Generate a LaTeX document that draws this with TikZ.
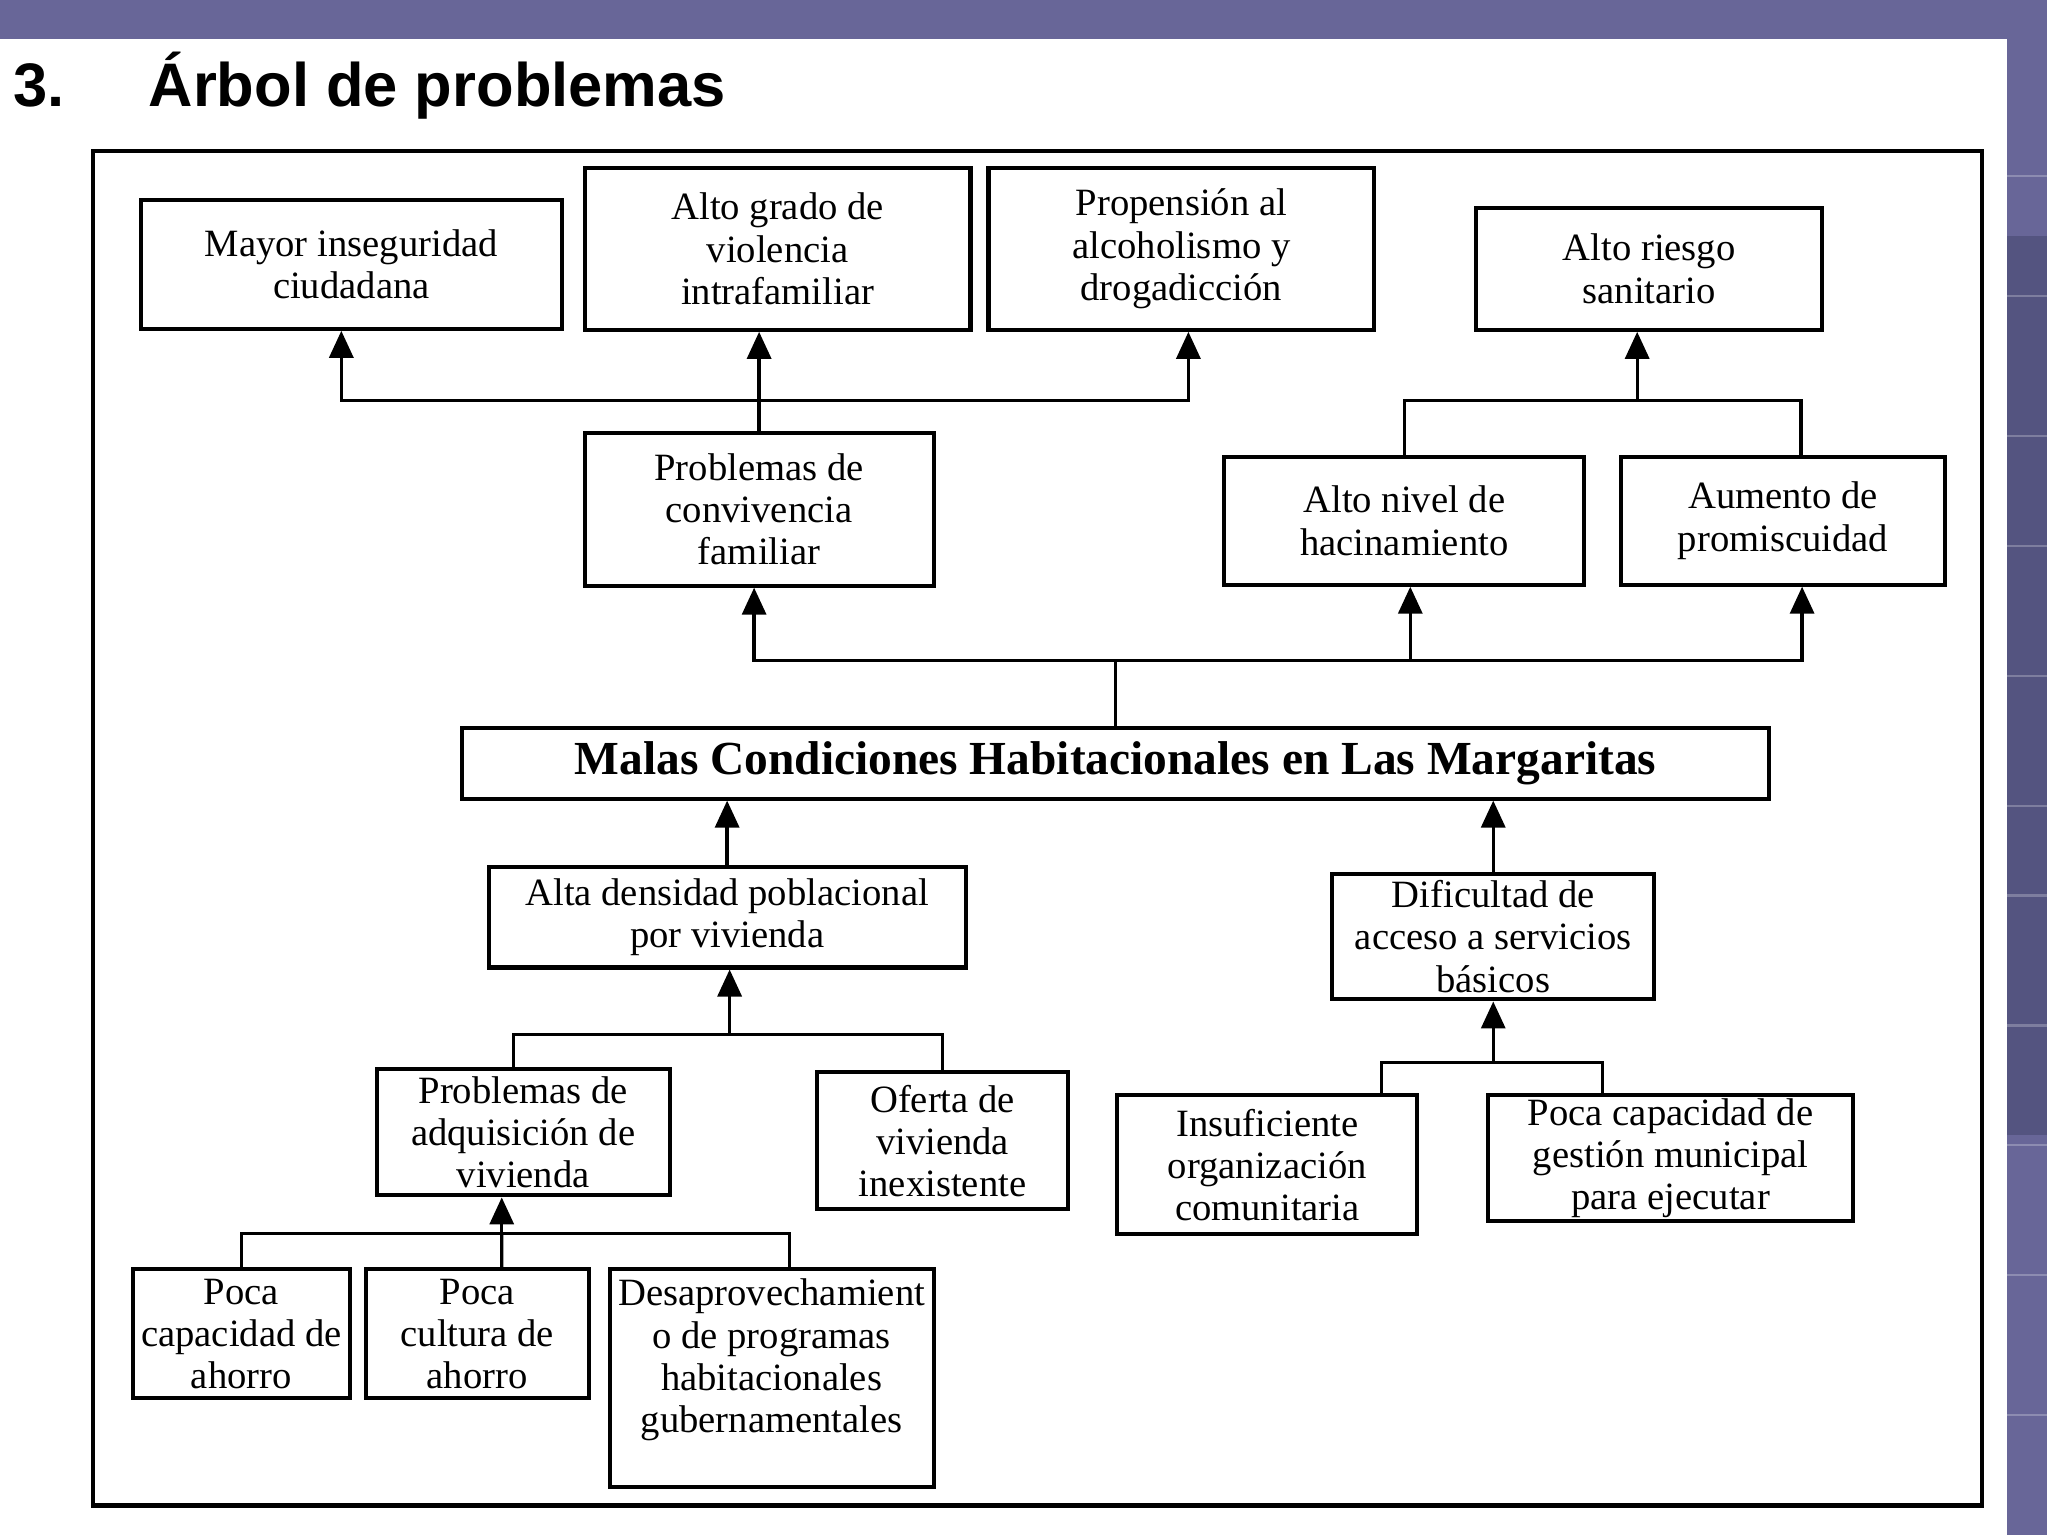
\documentclass[tikz,border=0pt]{standalone}
\usepackage{fontspec}
\setmainfont{Liberation Serif}
\newfontfamily\titlefont{Liberation Sans}
\usetikzlibrary{arrows.meta,calc}
\definecolor{fondo}{RGB}{104,102,152}
\definecolor{fondooscuro}{RGB}{84,84,128}

\begin{document}
\begin{tikzpicture}[
  caja/.style={draw, line width=1.15pt, align=center, inner sep=1pt,
    font={\fontsize{11}{12}\selectfont}},
  flecha/.style={-{Triangle[length=0.27cm,width=0.24cm]}, line width=0.95pt},
  linea/.style={line width=0.95pt}]
  % fondo de la diapositiva
  \fill[fondo] (0,0) rectangle (20.48,15.36);
  \fill[fondooscuro] (20.08,4) rectangle (20.48,13);
  \foreach \y in {1.2,2.6,3.9,5.1,6.4,7.3,8.6,9.9,11.0,12.4,13.6}
    \draw[white, opacity=0.25, line width=0.6pt] (20.08,\y) -- (20.48,\y);
  \fill[white] (0,0) rectangle (20.08,14.97);
  \useasboundingbox (0,0) rectangle (20.48,15.36);
  % titulo
  \node[anchor=base west, inner sep=0, font={\titlefont\bfseries\fontsize{17.5}{20}\selectfont}] (num) at (0.13,14.29) {3.};
  \node[anchor=base west, inner sep=0, font={\titlefont\bfseries\fontsize{17.5}{20}\selectfont}] (titulo) at (1.48,14.29) {Árbol de problemas};
  % marco
  \draw[line width=1.3pt] (0.93,0.30) rectangle (19.83,13.85);
  % efectos
  \node[caja, minimum width=4.21cm, minimum height=1.29cm] (inseg) at (3.515,12.715) {Mayor inseguridad\\ciudadana};
  \node[caja, minimum width=3.86cm, minimum height=1.62cm] (violencia) at (7.78,12.87) {Alto grado de\\violencia\\intrafamiliar};
  \node[caja, minimum width=3.86cm, minimum height=1.62cm] (alcohol) at (11.82,12.87) {Propensión al\\alcoholismo y\\drogadicción};
  \node[caja, minimum width=3.46cm, minimum height=1.22cm] (riesgo) at (16.50,12.67) {Alto riesgo\\sanitario};
  \node[caja, minimum width=3.49cm, minimum height=1.53cm] (conviv) at (7.595,10.265) {Problemas de\\convivencia\\familiar};
  \node[caja, minimum width=3.60cm, minimum height=1.28cm] (hacin) at (14.05,10.15) {Alto nivel de\\hacinamiento};
  \node[caja, minimum width=3.24cm, minimum height=1.28cm] (promis) at (17.84,10.15) {Aumento de\\promiscuidad};
  % problema central
  \node[caja, minimum width=13.08cm, minimum height=0.71cm, font={\bfseries\fontsize{13.5}{15}\selectfont}] (principal) at (11.16,7.725) {Malas Condiciones Habitacionales en Las Margaritas};
  % causas
  \node[caja, minimum width=4.77cm, minimum height=1.01cm] (densidad) at (7.275,6.185) {Alta densidad poblacional\\por vivienda};
  \node[caja, minimum width=3.22cm, minimum height=1.26cm] (acceso) at (14.94,5.99) {Dificultad de\\acceso a servicios\\básicos};
  \node[caja, minimum width=2.93cm, minimum height=1.26cm] (adquis) at (5.235,4.03) {Problemas de\\adquisición de\\vivienda};
  \node[caja, minimum width=2.52cm, minimum height=1.37cm] (oferta) at (9.43,3.945) {Oferta de\\vivienda\\inexistente};
  \node[caja, minimum width=3.00cm, minimum height=1.39cm] (insuf) at (12.68,3.705) {Insuficiente\\organización\\comunitaria};
  \node[caja, minimum width=3.65cm, minimum height=1.25cm] (gestion) at (16.715,3.775) {Poca capacidad de\\gestión municipal\\para ejecutar};
  \node[caja, minimum width=2.17cm, minimum height=1.29cm] (ahorro1) at (2.415,2.015) {Poca\\capacidad de\\ahorro};
  \node[caja, minimum width=2.23cm, minimum height=1.29cm] (ahorro2) at (4.775,2.015) {Poca\\cultura de\\ahorro};
  \node[caja, minimum width=3.24cm, minimum height=2.18cm, text depth=0.45cm] (desap) at (7.72,1.57) {Desaprovechamient\\o de programas\\habitacionales\\gubernamentales};
  % convivencia -> efectos
  \coordinate (c1) at (7.595,11.35);
  \draw[flecha] (conviv.north) -- (conviv.north |- violencia.south);
  \draw[flecha] (c1) -| ([xshift=-0.1cm]inseg.south);
  \draw[flecha] (c1) -| ([xshift=0.07cm]alcohol.south);
  % hacinamiento y promiscuidad -> riesgo
  \coordinate (c2) at (16.38,11.35);
  \draw[flecha] (c2) -- (c2 |- riesgo.south);
  \draw[linea] (hacin.north) |- (c2) -| ([xshift=0.18cm]promis.north);
  % problema central -> efectos
  \coordinate (c3) at (11.16,8.75);
  \draw[linea] (principal.north) -- (c3);
  \draw[flecha] (c3) -| ([xshift=-0.05cm]conviv.south);
  \draw[flecha] (c3) -| ([xshift=0.06cm]hacin.south);
  \draw[flecha] (c3) -| ([xshift=0.19cm]promis.south);
  % causas directas
  \draw[flecha] (densidad.north) -- (densidad.north |- principal.south);
  \draw[flecha] (acceso.north) -- (acceso.north |- principal.south);
  % causas de la densidad
  \coordinate (c4) at (7.30,5.01);
  \draw[flecha] (c4) -- (c4 |- densidad.south);
  \draw[linea] ([xshift=-0.1cm]adquis.north) |- (c4) -| (oferta.north);
  % causas del acceso
  \coordinate (c5) at (14.94,4.73);
  \draw[flecha] (c5) -- (c5 |- acceso.south);
  \draw[linea] ([xshift=1.14cm]insuf.north) |- (c5) -| ([xshift=-0.685cm]gestion.north);
  % causas de la adquisicion
  \coordinate (c6) at (5.02,3.02);
  \draw[flecha] (c6) -- (c6 |- adquis.south);
  \draw[linea] (ahorro1.north) |- (c6) -| ([xshift=0.18cm]desap.north);
  \draw[linea] ([xshift=0.245cm]ahorro2.north) -- (c6);
\end{tikzpicture}
\end{document}
